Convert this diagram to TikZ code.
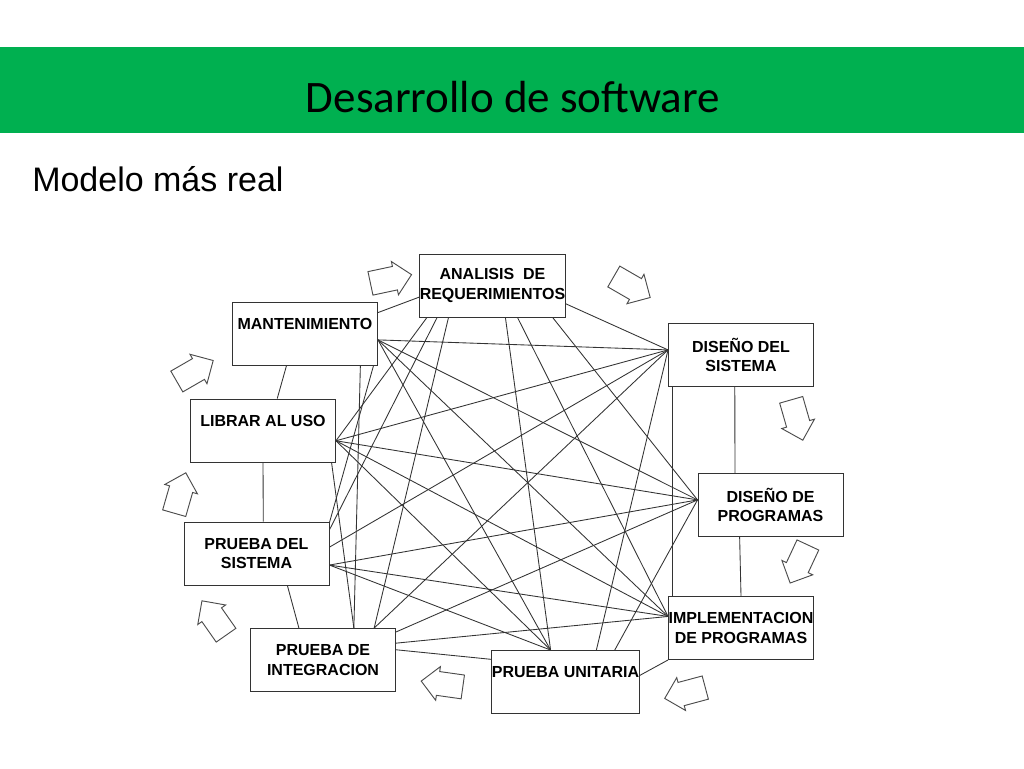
\documentclass[tikz,border=0pt]{standalone}
\usepackage{fontspec}
\setmainfont{Liberation Sans}
\newfontfamily\titlefont{Carlito}
\usepackage{tikz}
\definecolor{bandgreen}{HTML}{00B050}
\tikzset{box/.style = {draw = black!80, line width = 0.7pt, minimum width = 108.75pt,
                       minimum height = 47.25pt, inner sep = 0, align = center,
                       font = \fontsize{12}{14.5}\selectfont\bfseries}}
\tikzset{link/.style = {draw = black!80, line width = 0.65pt}}
\tikzset{flowline/.style = {draw = black!70, fill = white, line width = 0.7pt, line join = miter}}
\tikzset{flowarrow/.pic = {\draw [flowline] (-21, -12) -- (4, -12) -- (4, -17) -- (21, 0)
                                            -- (4, 17) -- (4, 12) -- (-21, 12) -- cycle;}}

\begin{document}
\begin{tikzpicture}[x=0.75pt, y=-0.75pt]
    \useasboundingbox (0, 0) rectangle (1024, 768);
    \fill [bandgreen] (0, 47) rectangle (1024, 133);
    \node [anchor = base, font = \titlefont\fontsize{33.75}{40}\selectfont] (title) at (513, 112) {Desarrollo de software};
    \node [anchor = base west, inner sep = 0, font = \fontsize{25.5}{30}\selectfont] (subtitle) at (32, 191) {Modelo más real};

    \node [box] (analisis) at (492.5, 285.5) {ANALISIS\ \ DE\\REQUERIMIENTOS};
    \node [box] (mant) at (305, 333.5) {MANTENIMIENTO\\\mbox{}};
    \node [box] (dissis) at (741, 355) {DISEÑO DEL\\SISTEMA};
    \node [box] (librar) at (263, 430.5) {LIBRAR AL USO\\\mbox{}};
    \node [box] (disprog) at (770.5, 505) {DISEÑO DE\\PROGRAMAS};
    \node [box] (pruebasis) at (256.5, 553.5) {PRUEBA DEL\\SISTEMA};
    \node [box] (impl) at (741, 628) {IMPLEMENTACION\\DE PROGRAMAS};
    \node [box] (integ) at (323, 660) {PRUEBA DE\\INTEGRACION};
    \node [box] (unit) at (565.5, 682) {PRUEBA UNITARIA\\\mbox{}};

    \pic [rotate = 12] (f1) at (391, 279) {flowarrow};
    \pic [rotate = -30] (f2) at (632, 287) {flowarrow};
    \pic [rotate = -74] (f3) at (797, 420) {flowarrow};
    \pic [rotate = -115] (f4) at (799, 564) {flowarrow};
    \pic [rotate = -165] (f5) at (685, 693) {flowarrow};
    \pic [rotate = 172] (f6) at (442, 684) {flowarrow};
    \pic [rotate = 125] (f7) at (214, 618) {flowarrow};
    \pic [rotate = 74] (f8) at (180, 493) {flowarrow};
    \pic [rotate = 30] (f9) at (195, 371) {flowarrow};

    \draw [link] (mant.16) -- (analisis.189);
    \draw [link] (analisis.-14) -- (dissis.176);
    \draw [link] (dissis.-101) -- (disprog.138);
    \draw [link] (disprog.-134) -- (impl.north);
    \draw [link] (impl.south west) -- (unit.5);
    \draw [link] (unit.163) -- (integ.8);
    \draw [link] (integ.127) -- (pruebasis.-46);
    \draw [link] (pruebasis.78) -- (librar.south);
    \draw [link] (librar.66) -- (mant.-120);

    \draw [link] (mant.-5) -- (dissis.176);
    \draw [link] (mant.-5) -- (disprog.176);
    \draw [link] (mant.-5) -- (impl.171);
    \draw [link] (mant.-5) -- (unit.115);
    \draw [link] (mant.-30) -- (integ.46);
    \draw [link] (mant.-25) -- (pruebasis.23);

    \draw [link] (librar.-8) -- (analisis.-154);
    \draw [link] (librar.-8) -- (dissis.176);
    \draw [link] (librar.-8) -- (disprog.176);
    \draw [link] (librar.-8) -- (impl.171);
    \draw [link] (librar.-8) -- (unit.115);
    \draw [link] (librar.-25) -- (integ.46);

    \draw [link] (pruebasis.18) -- (analisis.-150);
    \draw [link] (pruebasis.5) -- (dissis.176);
    \draw [link] (pruebasis.-9) -- (disprog.176);
    \draw [link] (pruebasis.-9) -- (impl.171);
    \draw [link] (pruebasis.-9) -- (unit.115);

    \draw [link] (integ.32) -- (analisis.-144);
    \draw [link] (integ.32) -- (dissis.176);
    \draw [link] (integ.21) -- (disprog.176);
    \draw [link] (integ.13) -- (impl.171);

    \draw [link] (unit.115) -- (analisis.-68);
    \draw [link] (unit.46) -- (dissis.176);
    \draw [link] (unit.33) -- (disprog.176);

    \draw [link] (impl.171) -- (analisis.-52);
    \draw [link] (impl.155) -- (dissis.-155);

    \draw [link] (disprog.176) -- (analisis.-28);
\end{tikzpicture}
\end{document}
